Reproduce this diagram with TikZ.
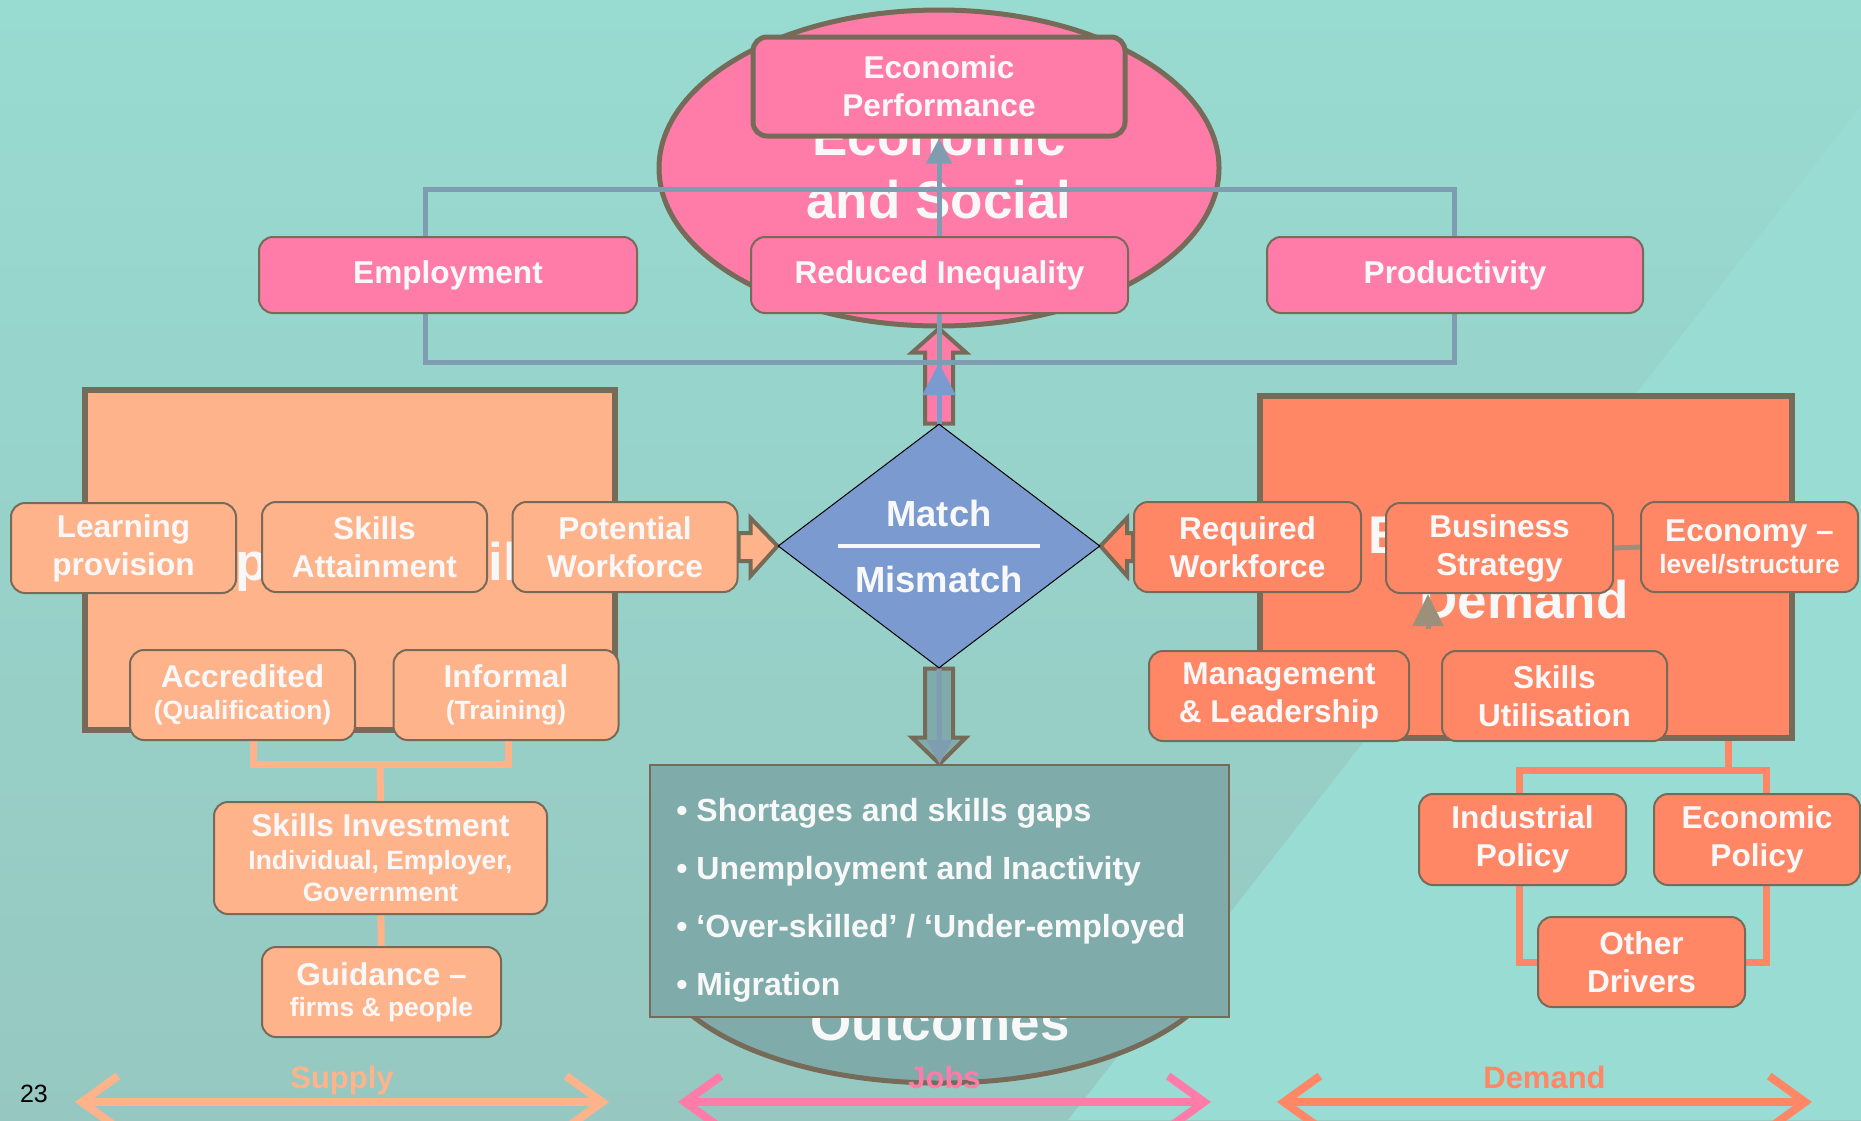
\documentclass[tikz,border=0pt]{standalone}
\usepackage{fontspec}
\setmainfont{Liberation Sans}
\usepackage{xcolor}
\usetikzlibrary{positioning}
\usetikzlibrary{arrows.meta}
\usetikzlibrary{shapes.geometric}
\usetikzlibrary{calc}

\definecolor{pinkc}{HTML}{FF7BA8}
\definecolor{salmonc}{HTML}{FFB38B}
\definecolor{coralc}{HTML}{FF8766}
\definecolor{diamondc}{HTML}{7B9BD0}
\definecolor{outc}{HTML}{7FABAB}
\definecolor{edgec}{HTML}{766B58}
\definecolor{linkc}{HTML}{7F9DB0}
\definecolor{greyarr}{HTML}{9B917A}
\definecolor{textc}{HTML}{F8F8F8}
\definecolor{bgtop}{HTML}{98DBD1}
\definecolor{bgbot}{HTML}{96C8C1}
\definecolor{bglight}{HTML}{98DCD3}

\newcommand{\boxtextfont}{\bfseries\fontsize{15.8}{19}\selectfont}
\newcommand{\smalltextfont}{\fontsize{13.2}{16}\selectfont}
\newcommand{\bigtitlefont}{\bfseries\fontsize{26.5}{31.5}\selectfont}
\newcommand{\mmtextfont}{\bfseries\fontsize{18.2}{22}\selectfont}
\newcommand{\issuefont}{\bfseries\fontsize{16}{28.85}\selectfont}

\pgfdeclarelayer{back}
\pgfdeclarelayer{mid}
\pgfsetlayers{back,mid,main}

\tikzset{
  box/.style={draw=edgec, line width=1pt, rounded corners=7pt, text=textc,
              font=\boxtextfont, align=center, inner sep=0pt,
              minimum width=112.5pt, minimum height=45pt},
  bigbox/.style={draw=edgec, line width=3pt, minimum width=265pt, minimum height=170pt},
  titletxt/.style={text=textc, font=\bigtitlefont, inner sep=0pt},
  fatarrow/.style={draw=edgec, line width=2pt, line join=miter},
  linkline/.style={draw=linkc, line width=2.5pt},
  blueline/.style={draw=diamondc, line width=2.5pt},
  supplyline/.style={draw=salmonc, line width=3.5pt},
  demandline/.style={draw=coralc, line width=3.5pt},
  greyline/.style={draw=greyarr, line width=2.5pt},
  spanarrow/.style={line width=4pt, {Straight Barb[length=18pt,width=26pt]}-{Straight Barb[length=18pt,width=26pt]}},
  spanlabel/.style={anchor=base, yshift=7pt, inner sep=0pt, font=\bfseries\fontsize{15.5}{18}\selectfont}
}

\begin{document}
\begin{tikzpicture}[x=0.5pt, y=-0.5pt]
\useasboundingbox (0,0) rectangle (1861,1120);

\begin{pgfonlayer}{back}
   \shade[top color=bgtop, bottom color=bgbot] (0,0) rectangle (1861,1120);
   \fill[bglight] (1068,1120) -- (1861,106) -- (1861,1120) -- cycle;

   \node[ellipse, draw=edgec, line width=2.5pt, fill=pinkc, minimum width=280pt, minimum height=158pt,
         inner sep=0pt, align=center, text=textc, font=\bigtitlefont] (ecosoc) at (939,168) {Economic\\and Social};
   \node[ellipse, draw=edgec, line width=2.5pt, fill=outc, minimum width=287pt, minimum height=136pt] (outell) at (940,947) {};
   \node[titletxt, anchor=base] (outttl) at (940,1040) {Outcomes};

   \node[bigbox, fill=salmonc] (supplybox) at (350,560) {};
   \node[bigbox, fill=coralc, minimum width=266pt, minimum height=171pt] (demandbox) at (1526,567) {};
   \node[titletxt, anchor=base] (supplyttl) at (365,580) {Supply of Skills};
   \node[titletxt, anchor=base west] (demandttl) at (1368,553) {Employer};
   \node[titletxt, anchor=base] (demandttlb) at (1524,618) {Demand};
\end{pgfonlayer}

% outcomes
\begin{scope}[every node/.style={box}]
   \node[fill=pinkc, line width=2.5pt, minimum width=186pt, minimum height=49.5pt] (perf) at (939,86.5) {Economic\\Performance};
   \node[fill=pinkc, minimum width=189pt, minimum height=38pt] (employ) at (448,275) {Employment};
   \node[fill=pinkc, minimum width=188.5pt, minimum height=38pt] (inequal) at (939.5,275) {Reduced Inequality};
   \node[fill=pinkc, minimum width=188pt, minimum height=38pt] (product) at (1455,275) {Productivity};
\end{scope}

% supply side
\begin{scope}[every node/.style={box, fill=salmonc}]
   \node (learn) at (123.5,548) {Learning\\provision};
   \node (attain) at (374.5,547) {Skills\\Attainment};
   \node (potential) at (625,547) {Potential\\Workforce};
   \node (accred) at (242.5,695) {Accredited\\[-3pt]{\smalltextfont (Qualification)}};
   \node (informal) at (506,695) {Informal\\[-3pt]{\smalltextfont (Training)}};
   \node[minimum width=166.5pt, minimum height=56pt] (invest) at (380.5,858)
        {Skills Investment\\[-2.5pt]{\smalltextfont Individual, Employer,}\\[-3pt]{\smalltextfont Government}};
   \node[minimum width=119.5pt] (guidance) at (381.5,992) {Guidance --\\[-3.5pt]{\smalltextfont firms \& people}};
\end{scope}

% demand side
\begin{scope}[every node/.style={box, fill=coralc}]
   \node[minimum width=113.5pt] (required) at (1247.5,547) {Required\\Workforce};
   \node[minimum width=113.5pt] (business) at (1499.5,548) {Business\\Strategy};
   \node[minimum width=108.5pt] (economy) at (1749.5,547) {Economy --\\[-3pt]{\smalltextfont level/structure}};
   \node[minimum width=130pt] (manage) at (1279,696) {Management\\\& Leadership};
   \node (utilise) at (1554.5,696) {Skills\\Utilisation};
   \node[minimum width=103.5pt, minimum height=45.5pt] (industrial) at (1522.5,839.5) {Industrial\\Policy};
   \node[minimum width=103pt, minimum height=45.5pt] (econpol) at (1757,839.5) {Economic\\Policy};
   \node[minimum width=103.5pt] (drivers) at (1641.5,962) {Other\\Drivers};
\end{scope}

% match / mismatch
\node[diamond, draw=black, line width=0.5pt, fill=diamondc, minimum width=161pt, minimum height=122pt, inner sep=0pt] (mm) at (939,546) {};
\node[anchor=base, text=textc, font=\mmtextfont, inner sep=0pt] (matchtxt) at ($(mm.center)+(0,-20)$) {Match};
\node[anchor=base, text=textc, font=\mmtextfont, inner sep=0pt] (mismatchtxt) at ($(mm.center)+(0,46)$) {Mismatch};
\draw[textc, line width=2.2pt] ($(mm.center)+(-101,0)$) -- ($(mm.center)+(101,0)$);

\node[draw=edgec, line width=1pt, fill=outc, minimum width=289.5pt, minimum height=126pt] (outbox) at (939.5,891) {};
\node[anchor=base west, align=left, text=textc, font=\issuefont, inner sep=0pt] (issues) at (676,995)
     {• Shortages and skills gaps\\• Unemployment and Inactivity\\• ‘Over-skilled’ / ‘Under-employed\\• Migration};

\coordinate (rtl) at (425,189);
\coordinate (rbr) at (1454,362);
\coordinate (bluetip) at (939,363);
\coordinate (sj) at (380,764);
\coordinate (ipl) at (1519,770);
\coordinate (epl) at (1766,770);
\coordinate (dj) at (1728,770);
\coordinate (bsin) at (1428,629);

\begin{pgfonlayer}{mid}
   \draw[fatarrow, fill=pinkc] ($(mm.north)+(-14,0)$) -- ++(0,-71) -- ++(-13,0) -- (ecosoc.south)
        -- ($(mm.north)+(27,-71)$) -- ++(-13,0) -- ($(mm.north)+(14,0)$) -- cycle;
   \draw[fatarrow, fill=salmonc] ($(potential.east)+(0,-14)$) -- ++(12,0) -- ++(0,-15) -- (mm.west)
        -- ($(potential.east)+(12,29)$) -- ++(0,-15) -- ($(potential.east)+(0,14)$) -- cycle;
   \draw[fatarrow, fill=coralc] ($(required.west)+(0,-14)$) -- ++(-6,0) -- ++(0,-15) -- (mm.east)
        -- ($(required.west)+(-6,29)$) -- ++(0,-15) -- ($(required.west)+(0,14)$) -- cycle;
   \draw[fatarrow, fill=outc] ($(mm.south)+(-14,0)$) -- ++(0,69) -- ++(-13,0) -- (outbox.north)
        -- ($(mm.south)+(27,69)$) -- ++(-13,0) -- ($(mm.south)+(14,0)$) -- cycle;

   \draw[linkline] (rtl) rectangle (rbr);
   \draw[linkline, -{Triangle[length=12.5pt, width=12.5pt]}] (mm.north) -- (perf.south);
   \draw[blueline, -{Triangle[length=16pt, width=16pt]}] (mm.north) -- (bluetip);
   \draw[linkline, -{Triangle[length=12pt, width=12pt]}] (mm.south) -- (outbox.north);

   \draw[supplyline] ([xshift=5.25pt]accred.south) |- (sj) -| ([xshift=1pt]informal.south);
   \draw[supplyline] (sj) -- (invest.north);
   \draw[supplyline] (invest) -- (guidance);

   \draw[demandline] (dj |- demandbox.south) -- (dj);
   \draw[demandline] (ipl |- industrial.north) -- (ipl) -- (epl) -- (epl |- econpol.north);
   \draw[demandline] (ipl |- industrial.south) |- (drivers.west);
   \draw[demandline] (epl |- econpol.south) |- (drivers.east);

   \draw[greyline] (business.east) -- (economy.west);
   \draw[greyline, -{Triangle[length=16pt, width=15pt]}] (bsin) -- (bsin |- business.south);
\end{pgfonlayer}

% span arrows
\coordinate (sa) at (75,1102);
\coordinate (sb) at (609,1102);
\coordinate (ja) at (678,1102);
\coordinate (jb) at (1211,1102);
\coordinate (da) at (1277,1102);
\coordinate (db) at (1812,1102);
\draw[spanarrow, salmonc] (sa) -- node[spanlabel, text=salmonc] (supplylbl) {Supply} (sb);
\draw[spanarrow, pinkc] (ja) -- node[spanlabel, text=pinkc] (jobslbl) {Jobs} (jb);
\draw[spanarrow, coralc] (da) -- node[spanlabel, text=coralc] (demandlbl) {Demand} (db);

\node[text=black, font=\fontsize{12.5}{15}\selectfont, inner sep=0pt] (pagenum) at (34,1094) {23};
\end{tikzpicture}
\end{document}
